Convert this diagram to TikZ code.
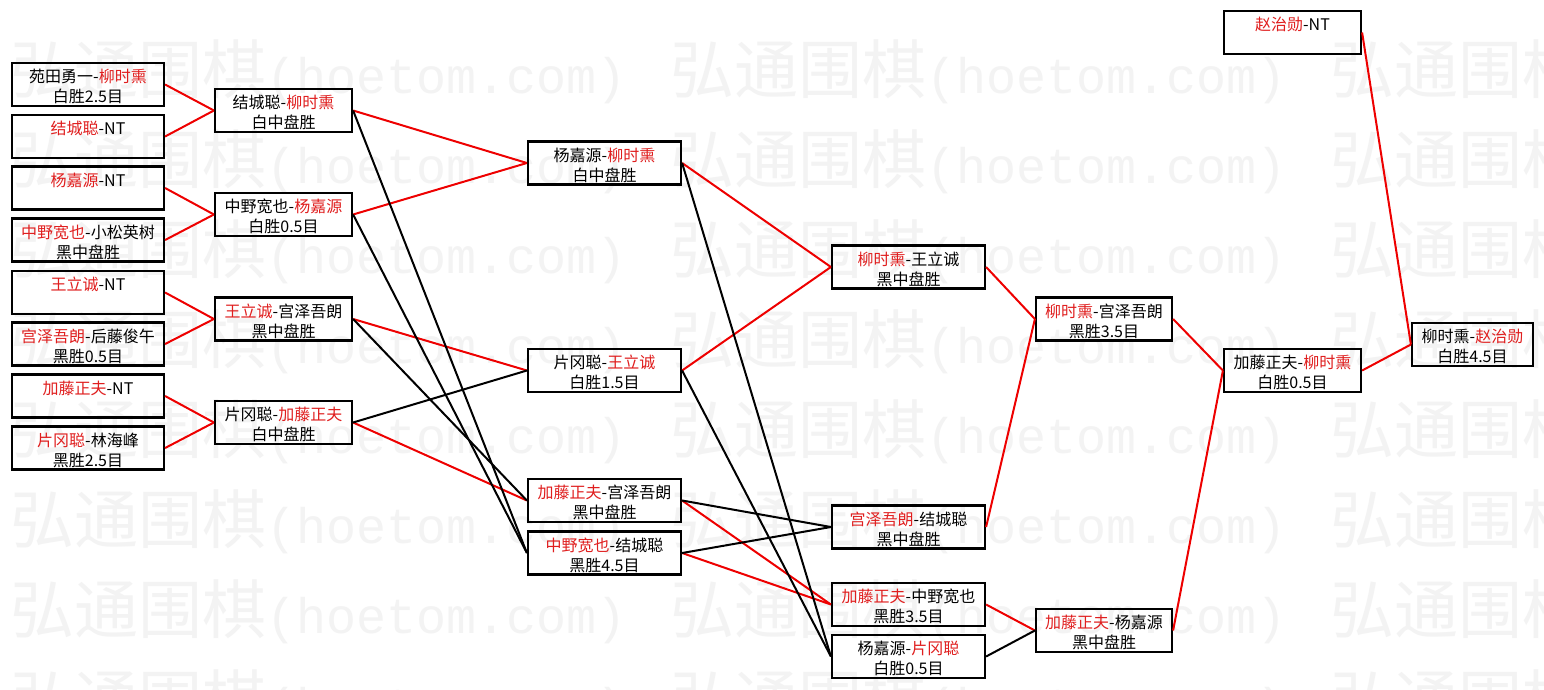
\documentclass[tikz,border=0pt]{standalone}
\usepackage{fontspec}
\setmainfont{Noto Sans CJK SC}
\newfontfamily\marcamono{Liberation Mono}
\definecolor{rojo}{HTML}{E01E1E}
\definecolor{linearoja}{HTML}{EE0000}
\definecolor{agua}{HTML}{F3F3F3}
\newcommand{\rj}[1]{\textcolor{rojo}{#1}}
\newcommand{\casilla}[2]{\rule{0pt}{18pt}#1\\#2\rule[-2pt]{0pt}{2pt}}

\begin{document}
\begin{tikzpicture}[x=1pt,y=-1pt,
      partida/.style={draw,line width=2.2pt,minimum height=43pt,inner sep=0pt,
                      align=center,font=\fontsize{16}{20}\selectfont},
      gana/.style={linearoja,line width=2pt},
      pierde/.style={black,line width=2pt},
      marca/.style={agua,anchor=base west,inner sep=0pt}]
    \fill[white] (0,0) rectangle (1544,689);
    \clip (0,0) rectangle (1544,689);
    % marca de agua
    \foreach \f in {0,...,7}
      \foreach \c in {0,1,2}
        \node[marca] (wm\f\c) at (10+660*\c,93+90*\f)
          {{\fontsize{64}{64}\selectfont 弘通围棋}{\marcamono\fontsize{50}{50}\selectfont (hoetom.com)}};
    % primera ronda
    \foreach \n/\y/\arriba/\abajo in {
        b1/84.5/{苑田勇一-\rj{柳时熏}}/{白胜2.5目},
        b2/136.5/{\rj{结城聪}-NT}/{},
        b3/188/{\rj{杨嘉源}-NT}/{},
        b4/240/{\rj{中野宽也}-小松英树}/{黑中盘胜},
        b5/292.5/{\rj{王立诚}-NT}/{},
        b6/344/{\rj{宫泽吾朗}-后藤俊午}/{黑胜0.5目},
        b7/396/{\rj{加藤正夫}-NT}/{},
        b8/448/{\rj{片冈聪}-林海峰}/{黑胜2.5目}}{
      \node[partida,minimum width=152pt] (\n) at (88,\y) {\casilla{\arriba}{\abajo}};
    }
    % segunda ronda
    \foreach \n/\y/\arriba/\abajo in {
        c1/110.5/{结城聪-\rj{柳时熏}}/{白中盘胜},
        c2/214.5/{中野宽也-\rj{杨嘉源}}/{白胜0.5目},
        c3/319/{\rj{王立诚}-宫泽吾朗}/{黑中盘胜},
        c4/422.5/{片冈聪-\rj{加藤正夫}}/{白中盘胜}}{
      \node[partida,minimum width=137pt] (\n) at (283.5,\y) {\casilla{\arriba}{\abajo}};
    }
    % tercera ronda
    \foreach \n/\y/\arriba/\abajo in {
        d1/163/{杨嘉源-\rj{柳时熏}}/{白中盘胜},
        d2/370.5/{片冈聪-\rj{王立诚}}/{白胜1.5目},
        d3/500.5/{\rj{加藤正夫}-宫泽吾朗}/{黑中盘胜},
        d4/553/{\rj{中野宽也}-结城聪}/{黑胜4.5目}}{
      \node[partida,minimum width=153pt] (\n) at (604.5,\y) {\casilla{\arriba}{\abajo}};
    }
    % cuarta ronda
    \foreach \n/\y/\arriba/\abajo in {
        e1/267/{\rj{柳时熏}-王立诚}/{黑中盘胜},
        e2/527/{\rj{宫泽吾朗}-结城聪}/{黑中盘胜},
        e3/604.5/{\rj{加藤正夫}-中野宽也}/{黑胜3.5目},
        e4/656.5/{杨嘉源-\rj{片冈聪}}/{白胜0.5目}}{
      \node[partida,minimum width=153pt] (\n) at (908.5,\y) {\casilla{\arriba}{\abajo}};
    }
    % finales
    \node[partida,minimum width=136pt] (f1) at (1104,319) {\casilla{\rj{柳时熏}-宫泽吾朗}{黑胜3.5目}};
    \node[partida,minimum width=136pt] (f2) at (1104,630.5) {\casilla{\rj{加藤正夫}-杨嘉源}{黑中盘胜}};
    \node[partida,minimum width=137pt] (g1) at (1292.5,32.5) {\casilla{\rj{赵治勋}-NT}{}};
    \node[partida,minimum width=137pt] (g2) at (1292.5,370.5) {\casilla{加藤正夫-\rj{柳时熏}}{白胜0.5目}};
    \node[partida,minimum width=121pt] (h) at (1472.5,344.5) {\casilla{柳时熏-\rj{赵治勋}}{白胜4.5目}};
    % conexiones
    \foreach \a/\b in {b1/c1,b2/c1,b3/c2,b4/c2,b5/c3,b6/c3,b7/c4,b8/c4,
                       c1/d1,c2/d1,c3/d2,c4/d3,d1/e1,d2/e1,d3/e3,d4/e3,
                       e1/f1,e2/f1,e3/f2,f1/g2,f2/g2,g1/h,g2/h}
      \draw[gana] (\a.east) -- (\b.west);
    \foreach \a/\b in {c1/d4,c2/d4,c3/d3,c4/d2,d1/e4,d2/e4,d3/e2,d4/e2,e4/f2}
      \draw[pierde] (\a.east) -- (\b.west);
  \end{tikzpicture}
\end{document}
